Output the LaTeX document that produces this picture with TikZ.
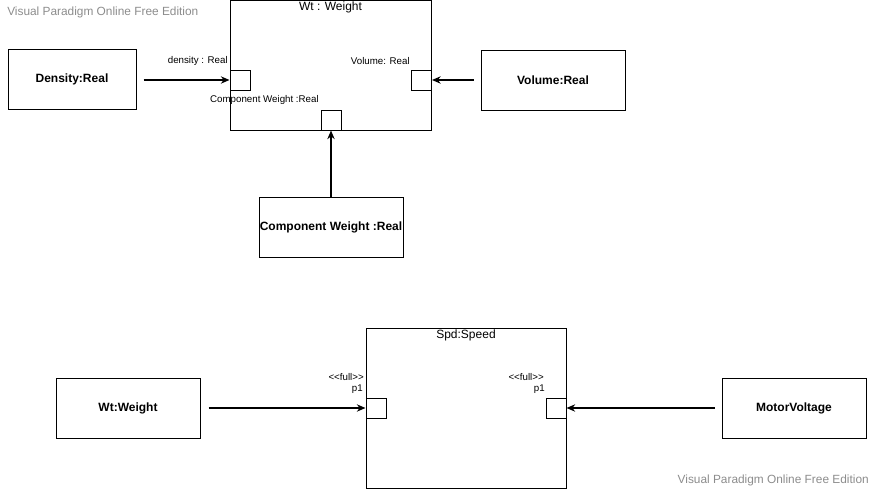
\documentclass[tikz,border=0pt]{standalone}
\usepackage{fontspec}
\setmainfont{Liberation Sans}
\newfontfamily\portfont{Liberation Sans}
\usetikzlibrary{arrows.meta,positioning}
\definecolor{wmGray}{RGB}{140,140,140}

\tikzset{
  block/.style={draw, line width=0.75pt, minimum width=108pt, minimum height=45pt,
    inner sep=0pt, font=\fontsize{9pt}{10pt}\selectfont\bfseries},
  part/.style={draw, line width=0.75pt, inner sep=0pt},
  port/.style={draw, fill=white, line width=0.75pt, minimum size=15pt, inner sep=0pt},
  plabel/.style={font=\portfont\fontsize{7.3pt}{8pt}\selectfont, inner sep=0pt},
  title/.style={font=\fontsize{9pt}{10pt}\selectfont, inner sep=0pt},
  flow/.style={-{Stealth[length=6.5pt,width=5.5pt]}, line width=0.9pt},
  wmark/.style={font=\fontsize{8.9pt}{10pt}\selectfont, text=wmGray, inner sep=0pt}
}

\begin{document}
\begin{tikzpicture}[x=0.75pt, y=-0.75pt]
    \useasboundingbox (0,0) rectangle (875,489);
    % watermarks
    \node[wmark, anchor=west] (wmA) at (7,12) {Visual Paradigm Online Free Edition};
    \node[wmark, anchor=east] (wmB) at (869,480) {Visual Paradigm Online Free Edition};

    % Weight part
    \node[part, minimum width=150.75pt, minimum height=97.5pt] (wt) at (330.5,65) {};
    \node[title] (wtT) at (330.5,7) {Wt : Weight};
    \node[port] (pDens) at (240,80) {};
    \node[port] (pVol) at (421.5,80) {};
    \node[port] (pComp) at (331,120) {};
    \node[plabel, anchor=east] (lDens) at (228,61) {density : Real};
    \node[plabel, anchor=east] (lVol) at (410,61) {Volume: Real};
    \node[plabel, anchor=east] (lComp) at (319,100) {Component Weight :Real};

    \node[block, minimum width=96pt] (dens) at (72,79) {Density:Real};
    \node[block] (vol) at (553,80) {Volume:Real};
    \node[block] (comp) at (331,227) {Component Weight :Real};

    \draw[flow, shorten <=5.25pt] (dens.east |- pDens) -- (pDens.west);
    \draw[flow, shorten <=5.25pt] (vol.west) -- (pVol.east);
    \draw[flow] (comp.north) -- (pComp.south);

    % Speed part
    \node[part, minimum width=150pt, minimum height=120pt] (spd) at (466,408) {};
    \node[title] (spdT) at (466,335) {Spd:Speed};
    \node[port] (pIn) at (376,408) {};
    \node[port] (pOut) at (556,408) {};
    \node[plabel, anchor=east] (sIn) at (364,377) {<<full>>};
    \node[plabel, anchor=east] (nIn) at (363,389) {p1};
    \node[plabel, anchor=east] (sOut) at (544,377) {<<full>>};
    \node[plabel, anchor=east] (nOut) at (545,389) {p1};

    \node[block] (wtw) at (128,408) {Wt:Weight};
    \node[block] (mv) at (794,408) {MotorVoltage};

    \draw[flow, shorten <=6pt] (wtw.east) -- (pIn.west);
    \draw[flow, shorten <=5.25pt] (mv.west) -- (pOut.east);
  \end{tikzpicture}
\end{document}
